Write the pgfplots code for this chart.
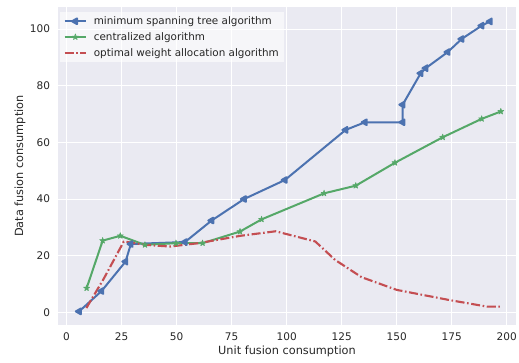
\documentclass[border=0pt]{standalone}
\usepackage{fontspec}
\setmainfont{DejaVu Sans}
\usepackage{pgfplots}
\pgfplotsset{compat=1.18}
\usetikzlibrary{plotmarks}
\definecolor{bgc}{HTML}{EAEAF2}
\definecolor{cblue}{HTML}{4C72B0}
\definecolor{cgreen}{HTML}{55A868}
\definecolor{cred}{HTML}{C44E52}
\definecolor{labc}{HTML}{262626}
\pgfdeclareplotmark{fstar}{%
 \pgfpathmoveto{\pgfpointpolar{90}{\pgfplotmarksize}}%
 \pgfpathlineto{\pgfpointpolar{126}{0.4\pgfplotmarksize}}%
 \pgfpathlineto{\pgfpointpolar{162}{\pgfplotmarksize}}%
 \pgfpathlineto{\pgfpointpolar{198}{0.4\pgfplotmarksize}}%
 \pgfpathlineto{\pgfpointpolar{234}{\pgfplotmarksize}}%
 \pgfpathlineto{\pgfpointpolar{270}{0.4\pgfplotmarksize}}%
 \pgfpathlineto{\pgfpointpolar{306}{\pgfplotmarksize}}%
 \pgfpathlineto{\pgfpointpolar{342}{0.4\pgfplotmarksize}}%
 \pgfpathlineto{\pgfpointpolar{18}{\pgfplotmarksize}}%
 \pgfpathlineto{\pgfpointpolar{54}{0.4\pgfplotmarksize}}%
 \pgfpathclose\pgfusepathqfillstroke}
\begin{document}
\begin{tikzpicture}
\path[use as bounding box] (-58pt,-37pt) rectangle (461pt,325pt);
\begin{axis}[
  scale only axis, width=458pt, height=318pt,
  xmin=-3.9, xmax=204.2, ymin=-4.5, ymax=107.8,
  axis background/.style={fill=bgc},
  grid=major, major grid style={white, line width=0.9pt},
  axis line style={draw=none}, tick style={draw=none},
  xtick={0,25,...,200}, ytick={0,20,...,100},
  /pgf/number format/assume math mode=true,
  ticklabel style={font=\fontsize{10.5}{12}\selectfont, text=labc},
  xticklabel style={yshift=-4.2pt},
  yticklabel style={xshift=-4.5pt},
  label style={font=\fontsize{11.3}{13}\selectfont, text=labc},
  xlabel={Unit fusion consumption},
  ylabel={Data fusion consumption},
  xlabel style={at={(axis description cs:0.5,-0.084)}, anchor=center},
  ylabel style={at={(axis description cs:-0.083,0.5)}, anchor=center},
  legend style={at={(axis description cs:0.005,0.985)}, anchor=north west,
    fill=white, fill opacity=0.6, text opacity=1, draw=none,
    font=\fontsize{10.4}{12}\selectfont, text=labc,
    row sep=1.2pt, nodes={inner sep=2.6pt},
    /tikz/every odd column/.append style={column sep=4pt}},
  legend cell align=left,
  legend image code/.code={\draw[mark repeat=2,mark phase=2] plot coordinates {(0cm,0cm) (0.38cm,0cm) (0.76cm,0cm)};},
]
\addplot[cblue, line width=2pt, line join=round, mark=triangle*, mark size=3.3pt, mark options={rotate=90, solid}] coordinates {
(5.7,0.3) (15.9,7.5) (26.8,17.9) (29.2,24.1) (53.8,24.8) (65.9,32.4) (80.7,40.0) (99.2,46.7) (126.8,64.4) (135.6,67.1) (152.7,67.1) (152.7,73.3) (160.9,84.4) (163.2,86.2) (173.2,91.9) (179.5,96.5) (188.6,101.2) (192.4,102.7)
};
\addlegendentry{minimum spanning tree algorithm}
\addplot[cgreen, line width=2pt, line join=round, mark=fstar, mark size=3.2pt, mark options={solid, line width=0.5pt}] coordinates {
(9.1,8.5) (16.4,25.3) (24.4,27.0) (35.6,23.8) (49.7,24.4) (61.8,24.4) (78.8,28.5) (88.6,32.8) (117.0,42.0) (131.4,44.7) (149.2,52.8) (170.9,61.8) (188.6,68.3) (197.3,70.9)
};
\addlegendentry{centralized algorithm}
\addplot[cred, line width=2.1pt, line join=round, dash pattern=on 9pt off 2.6pt on 1.6pt off 2.6pt] coordinates {
(9,1.5) (17,12) (26,25) (36,23.8) (47,23.2) (60,24.4) (79,27) (95,28.6) (113,25) (122,18.5) (134,12.4) (150,7.9) (174,4.3) (191,2.0) (197,2.0)
};
\addlegendentry{optimal weight allocation algorithm}
\end{axis}
\end{tikzpicture}
\end{document}
